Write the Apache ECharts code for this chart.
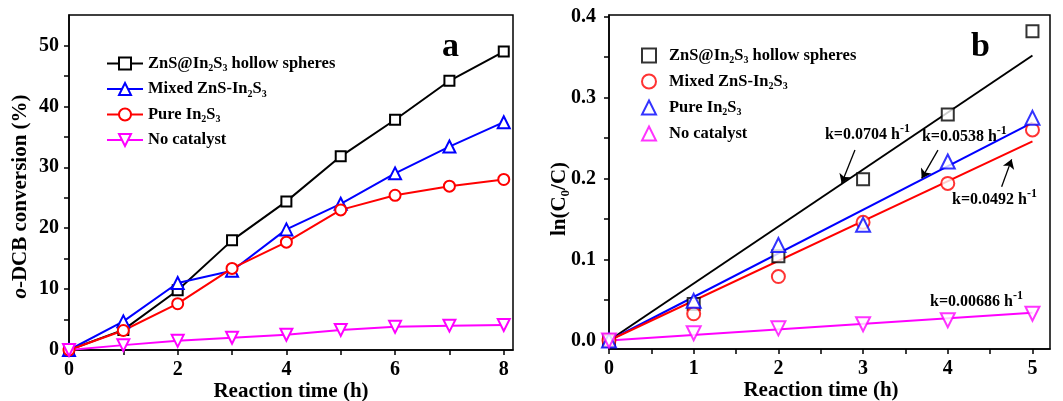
<!DOCTYPE html>
<html>
<head>
<meta charset="utf-8">
<script src="https://cdn.jsdelivr.net/npm/echarts@6/dist/echarts.min.js"></script>
<style>html,body{margin:0;padding:0;background:#fff}#c{width:1063px;height:401px}</style>
</head>
<body>
<div id="c"></div>
<script>
// ---------- Panel a data ----------
const timeA = [0, 1, 2, 3, 4, 5, 6, 7, 8];
const hollowA = [0, 3.3, 9.8, 18.0, 24.4, 31.8, 37.8, 44.2, 49.0];
const mixedA = [0, 4.7, 11.0, 13.0, 19.8, 24.0, 29.0, 33.4, 37.4];
const pureA = [0, 3.2, 7.6, 13.4, 17.7, 23.0, 25.4, 26.9, 28.0];
const noCatA = [0, 0.8, 1.5, 2.0, 2.5, 3.3, 3.8, 4.0, 4.1];
const xTicksA = [0, 1, 2, 3, 4, 5, 6, 7, 8];
const xLabelsA = [0, 2, 4, 6, 8];
const yTicksA = [0, 5, 10, 15, 20, 25, 30, 35, 40, 45, 50];
const yLabelsA = [0, 10, 20, 30, 40, 50];

// ---------- Panel b data ----------
const timeB = [0, 1, 2, 3, 4, 5];
const hollowB = [0, 0.045, 0.104, 0.199, 0.279, 0.382];
const mixedB = [0, 0.033, 0.079, 0.146, 0.194, 0.260];
const pureB = [0, 0.049, 0.118, 0.143, 0.221, 0.275];
const noCatB = [0, 0.009, 0.015, 0.020, 0.025, 0.033];
// fitted line end points (x, y)
const fitX = [0, 5];
const fitHollow = [0, 0.352];
const fitPure = [0, 0.269];
const fitMixed = [0, 0.246];
const fitNoCat = [0, 0.0343];
const xTicksB = [0, 0.5, 1, 1.5, 2, 2.5, 3, 3.5, 4, 4.5, 5];
const xLabelsB = [0, 1, 2, 3, 4, 5];
const yTicksB = [0, 0.05, 0.1, 0.15, 0.2, 0.25, 0.3, 0.35, 0.4];
const yLabelsB = [0, 0.1, 0.2, 0.3, 0.4];

const names = ['ZnS@In2S3 hollow spheres', 'Mixed ZnS-In2S3', 'Pure In2S3', 'No catalyst'];
const kTexts = ['k=0.0704 h', 'k=0.0538 h', 'k=0.0492 h', 'k=0.00686 h'];
// annotation anchors in data coordinates of panel b
const kTextPos = [[2.55, 0.2537], [3.695, 0.2512], [4.05, 0.1735], [3.79, 0.0475]];
const arrows = [
  [[2.904, 0.2352], [2.747, 0.1941]],
  [[3.884, 0.2352], [3.692, 0.2002]],
  [[4.636, 0.1899], [4.754, 0.2237]]
];

const FONT = 'Liberation Serif';
const BLACK = '#000000', BLUE = '#0000ff', RED = '#ff0000', MAG = '#ff00ff';

function richName(n) {
  const parts = n.split(/(\d)/);
  let out = '';
  parts.forEach(p => {
    if (p === '') return;
    if (/^\d$/.test(p)) out += '{s|' + p + '}';
    else out += '{b|' + p + '}';
  });
  return out;
}
const legendRich = {
  b: { fontFamily: FONT, fontWeight: 'bold', fontSize: 16.5, lineHeight: 20, color: '#000' },
  s: { fontFamily: FONT, fontWeight: 'bold', fontSize: 10, lineHeight: 6, verticalAlign: 'bottom', color: '#000' }
};
const tickFont = { fontFamily: FONT, fontWeight: 'bold', fontSize: 20, color: '#000' };
const nameFont = { fontFamily: FONT, fontWeight: 'bold', fontSize: 21, color: '#000' };
const axisLineStyle = { color: '#000', width: 1.5 };

const toPairs = (xs, ys) => xs.map((x, i) => [x, ys[i]]);

function lineSeries(name, ys, color, symbol, size, rotate) {
  return {
    type: 'line', name: name, xAxisIndex: 0, yAxisIndex: 0,
    data: toPairs(timeA, ys), symbol: symbol, symbolSize: size, symbolRotate: rotate || 0,
    showAllSymbol: true,
    lineStyle: { color: color, width: 2 },
    itemStyle: { color: color, borderWidth: 1.3 },
    z: 3
  };
}
function scatterSeries(name, ys, color, symbol, size, rotate) {
  return {
    type: 'scatter', name: 'b:' + name, xAxisIndex: 1, yAxisIndex: 1,
    data: toPairs(timeB, ys), symbol: symbol, symbolSize: size, symbolRotate: rotate || 0,
    itemStyle: { color: color, borderWidth: 1.5 },
    z: 4
  };
}
function fitSeries(id, ys, color, extra) {
  const s = {
    type: 'line', name: id, xAxisIndex: 1, yAxisIndex: 1,
    data: toPairs(fitX, ys), showSymbol: false, symbol: 'none',
    lineStyle: { color: color, width: 2 }, z: 2
  };
  return Object.assign(s, extra || {});
}

const arrowMarkLine = {
  silent: true, symbol: ['none', 'arrow'], symbolSize: 9,
  lineStyle: { color: '#000', width: 1.3, type: 'solid' },
  label: { show: false },
  data: arrows.map(a => [{ coord: a[0] }, { coord: a[1] }])
};

const option = {
  animation: false,
  backgroundColor: '#fff',
  grid: [
    { left: 69, top: 15, width: 444, height: 335, show: true, borderColor: '#000', borderWidth: 1.5, containLabel: false, outerBoundsMode: 'none' },
    { left: 609, top: 15, width: 441, height: 334, show: true, borderColor: '#000', borderWidth: 1.5, containLabel: false, outerBoundsMode: 'none' }
  ],
  xAxis: [
    {
      type: 'value', gridIndex: 0, min: 0, max: 8.17,
      axisLine: { onZero: false, lineStyle: axisLineStyle },
      axisTick: { customValues: xTicksA, length: 5, lineStyle: axisLineStyle },
      axisLabel: Object.assign({ customValues: xLabelsA, margin: 10 }, tickFont),
      splitLine: { show: false },
      name: 'Reaction time (h)', nameLocation: 'middle', nameGap: 31, nameMoveOverlap: false, nameTextStyle: nameFont
    },
    {
      type: 'value', gridIndex: 1, min: 0, max: 5.207,
      axisLine: { onZero: false, lineStyle: axisLineStyle },
      axisTick: { customValues: xTicksB, length: 5, lineStyle: axisLineStyle },
      axisLabel: Object.assign({ customValues: xLabelsB, margin: 10 }, tickFont),
      splitLine: { show: false },
      name: 'Reaction time (h)', nameLocation: 'middle', nameGap: 31, nameMoveOverlap: false,
      nameTextStyle: Object.assign({ padding: [0, 17, 0, 0] }, nameFont)
    }
  ],
  yAxis: [
    {
      type: 'value', gridIndex: 0, min: 0, max: 55,
      axisLine: { onZero: false, lineStyle: axisLineStyle },
      axisTick: { customValues: yTicksA, length: 5, lineStyle: axisLineStyle },
      axisLabel: Object.assign({ customValues: yLabelsA, margin: 10 }, tickFont),
      splitLine: { show: false },
      name: '{i|o}{b|-DCB conversion (%)}', nameLocation: 'middle', nameGap: 38, nameMoveOverlap: false,
      nameTextStyle: {
        padding: [0, 28, 0, 0],
        rich: {
          i: Object.assign({ fontStyle: 'italic' }, nameFont),
          b: nameFont
        }
      }
    },
    {
      type: 'value', gridIndex: 1, min: -0.0105, max: 0.402,
      axisLine: { onZero: false, lineStyle: axisLineStyle },
      axisTick: { customValues: yTicksB, length: 5, lineStyle: axisLineStyle },
      axisLabel: Object.assign({ customValues: yLabelsB, margin: 13, formatter: v => v.toFixed(1) }, tickFont),
      splitLine: { show: false },
      name: '{b|ln(C}{s|0}{b|/C)}', nameLocation: 'middle', nameGap: 37, nameMoveOverlap: false,
      nameTextStyle: {
        padding: [0, 34, 0, 0],
        rich: {
          b: Object.assign({ lineHeight: 24 }, nameFont),
          s: { fontFamily: FONT, fontWeight: 'bold', fontSize: 13, lineHeight: 8, verticalAlign: 'bottom', color: '#000' }
        }
      }
    }
  ],
  legend: [
    {
      orient: 'vertical', left: 106, top: 55, padding: 0, itemGap: 7, itemWidth: 36, itemHeight: 15,
      data: names, formatter: n => richName(n),
      textStyle: { rich: legendRich }, selectedMode: false
    },
    {
      orient: 'vertical', left: 641, top: 47, padding: 0, itemGap: 7.5, itemWidth: 14, itemHeight: 14,
      data: names.map((n, i) => (i === 3 ? { name: 'b:' + n, symbolRotate: 180 } : { name: 'b:' + n })),
      symbolRotate: 'inherit',
      formatter: n => richName(n.slice(2)),
      textStyle: { padding: [0, 0, 0, 8], rich: legendRich }, selectedMode: false
    }
  ],
  series: [
    lineSeries(names[0], hollowA, BLACK, 'emptyRect', 10),
    lineSeries(names[1], mixedA, BLUE, 'emptyTriangle', 12),
    lineSeries(names[2], pureA, RED, 'emptyCircle', 11),
    lineSeries(names[3], noCatA, MAG, 'emptyTriangle', 12, 180),
    fitSeries('fit0', fitHollow, BLACK, { markLine: arrowMarkLine }),
    fitSeries('fit1', fitPure, BLUE),
    fitSeries('fit2', fitMixed, RED),
    fitSeries('fit3', fitNoCat, MAG),
    scatterSeries(names[0], hollowB, BLACK, 'emptyRect', 12),
    scatterSeries(names[1], mixedB, RED, 'emptyCircle', 13),
    scatterSeries(names[2], pureB, BLUE, 'emptyTriangle', 14),
    scatterSeries(names[3], noCatB, MAG, 'emptyTriangle', 14, 180)
  ]
};

const chart = echarts.init(document.getElementById('c'), null, { renderer: 'canvas' });
chart.setOption(option);

const kRich = {
  m: { fontFamily: FONT, fontWeight: 'bold', fontSize: 16, lineHeight: 24, color: '#000' },
  p: { fontFamily: FONT, fontWeight: 'bold', fontSize: 12, lineHeight: 6, verticalAlign: 'top', color: '#000' }
};
const graphics = [
  { type: 'text', left: 442, top: 30, style: { text: 'a', fontFamily: FONT, fontWeight: 'bold', fontSize: 34, fill: '#000' } },
  { type: 'text', left: 971, top: 30, style: { text: 'b', fontFamily: FONT, fontWeight: 'bold', fontSize: 34, fill: '#000' } }
];
kTexts.forEach((t, i) => {
  const p = chart.convertToPixel({ gridIndex: 1 }, kTextPos[i]);
  graphics.push({
    type: 'text', x: p[0], y: p[1],
    style: { text: '{m|' + t + '}{p|-1}', rich: kRich, align: 'left', verticalAlign: 'middle' }
  });
});
chart.setOption({ graphic: graphics });
</script>
</body>
</html>
